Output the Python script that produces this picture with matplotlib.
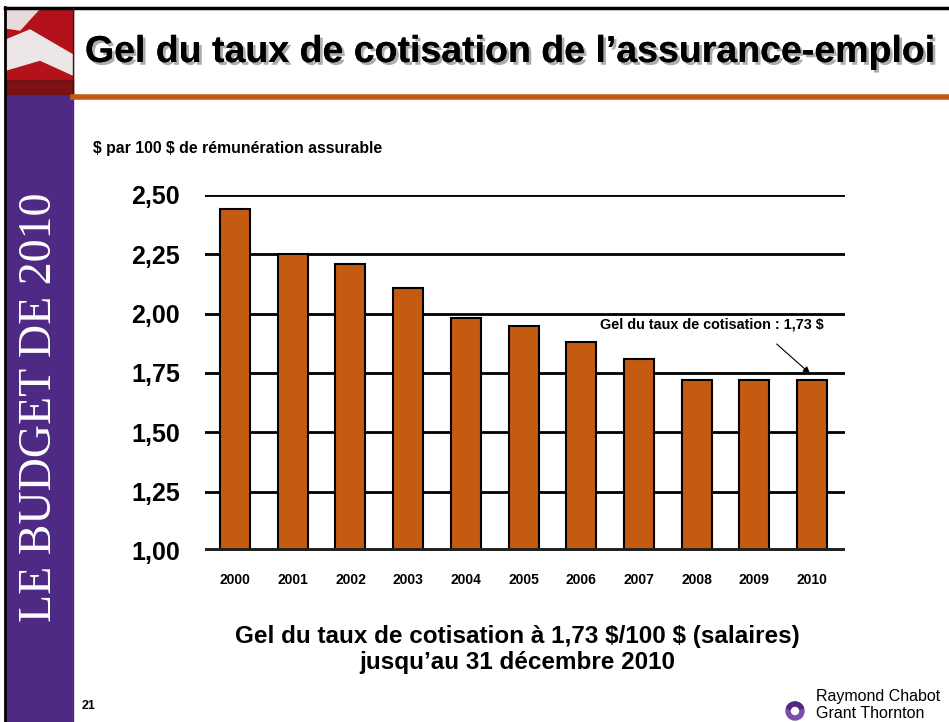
import matplotlib.pyplot as plt
import matplotlib.patheffects as pe
from matplotlib.patches import Rectangle, Polygon, Circle, Wedge

# donnees du graphique
annees = ['2000', '2001', '2002', '2003', '2004', '2005',
          '2006', '2007', '2008', '2009', '2010']
taux = [2.44, 2.25, 2.21, 2.11, 1.98, 1.95, 1.88, 1.81, 1.72, 1.72, 1.72]
graduations = [1.00, 1.25, 1.50, 1.75, 2.00, 2.25, 2.50]
etiquettes_y = ['1,00', '1,25', '1,50', '1,75', '2,00', '2,25', '2,50']

W, H = 949, 722
orange = '#C55A11'
violet = '#4E2A84'
font = 'Liberation Sans'

plt.rcParams['text.parse_math'] = False

fig = plt.figure(figsize=(W / 100, H / 100), dpi=100)

# fond de la diapo (coordonnees en pixels)
bg = fig.add_axes([0, 0, 1, 1], zorder=0)
bg.set_xlim(0, W)
bg.set_ylim(H, 0)
bg.axis('off')

bg.add_patch(Rectangle((6, 93), 67, H - 93, color=violet))
# drapeau (approximation)
bg.add_patch(Rectangle((6, 8), 67, 86, color='#B3121A'))
bg.add_patch(Polygon([(6, 40), (30, 30), (73, 55), (73, 75), (40, 60), (6, 70)],
                     color='#EDE6E6'))
bg.add_patch(Polygon([(6, 8), (40, 8), (20, 30), (6, 28)], color='#E8DADA'))
bg.add_patch(Rectangle((6, 80), 67, 14, color='#5A1010', alpha=0.6))
bg.plot([5, 5], [7, H], color='black', lw=2)
bg.plot([5, W], [8, 8], color='black', lw=2.5)
bg.plot([73, 73], [8, 94], color='#222222', lw=1)
bg.plot([73, W], [97, 97], color=orange, lw=4)

bg.text(40, 407, 'LE BUDGET DE 2010', rotation=90, ha='center', va='center',
        color='white', fontsize=33, family='Liberation Serif')

bg.text(510, 52, 'Gel du taux de cotisation de l\u2019assurance-emploi',
        ha='center', va='center', fontsize=27, fontweight='bold', family=font,
        path_effects=[pe.withSimplePatchShadow(offset=(2, -2), shadow_rgbFace='#999999',
                                               alpha=0.8), pe.Normal()])

bg.text(93, 149, '$ par 100 $ de r\u00e9mun\u00e9ration assurable', ha='left',
        va='center', fontsize=11.4, fontweight='bold', family=font)

bg.text(517, 636, 'Gel du taux de cotisation \u00e0 1,73 $/100 $ (salaires)',
        ha='center', va='center', fontsize=17.5, fontweight='bold', family=font)
bg.text(517, 662, 'jusqu\u2019au 31 d\u00e9cembre 2010',
        ha='center', va='center', fontsize=17.5, fontweight='bold', family=font)

bg.text(82, 706, '21', ha='left', va='center', fontsize=9, fontweight='bold', family=font)

# logo RCGT
bg.add_patch(Circle((795, 711), 9, color='#7B4FA8'))
bg.add_patch(Wedge((795, 711), 9, 200, 340, color='#4E2A84'))
bg.add_patch(Circle((795, 711), 3.5, color='white'))
bg.text(816, 697, 'Raymond Chabot', ha='left', va='center', fontsize=11.5, family=font)
bg.text(816, 713, 'Grant Thornton', ha='left', va='center', fontsize=11.5, family=font)

# graphique
ax = fig.add_axes([205 / W, (H - 551) / H, 640 / W, 356 / H], zorder=1)
ax.patch.set_alpha(0)
x = range(len(annees))
ax.bar(x, taux, width=0.52, bottom=0, color=orange, edgecolor='black',
       linewidth=1.5, zorder=3)
ax.set_ylim(1.0, 2.5)
ax.set_xlim(-0.52, len(annees) - 0.43)
ax.set_yticks(graduations)
ax.set_yticklabels(etiquettes_y, fontsize=18, fontweight='bold', family=font)
ax.set_xticks(list(x))
ax.set_xticklabels(annees, fontsize=10, fontweight='bold', family=font)
ax.tick_params(length=0)
ax.tick_params(axis='y', pad=18)
ax.tick_params(axis='x', pad=16)
for s in ax.spines.values():
    s.set_visible(False)
for g in graduations[1:]:
    ax.axhline(g, color='black', lw=2, zorder=2)
ax.axhline(1.0, color='#222222', lw=5, zorder=4)

ax.annotate('', xy=(10, 1.74), xytext=(9.35, 1.88),
            arrowprops=dict(arrowstyle='-|>', color='black', lw=0.8))
ax.text(10.2, 1.955, 'Gel du taux de cotisation : 1,73 $', ha='right', va='center',
        fontsize=10.4, fontweight='bold', family=font)

fig.savefig('out.png', dpi=100)
